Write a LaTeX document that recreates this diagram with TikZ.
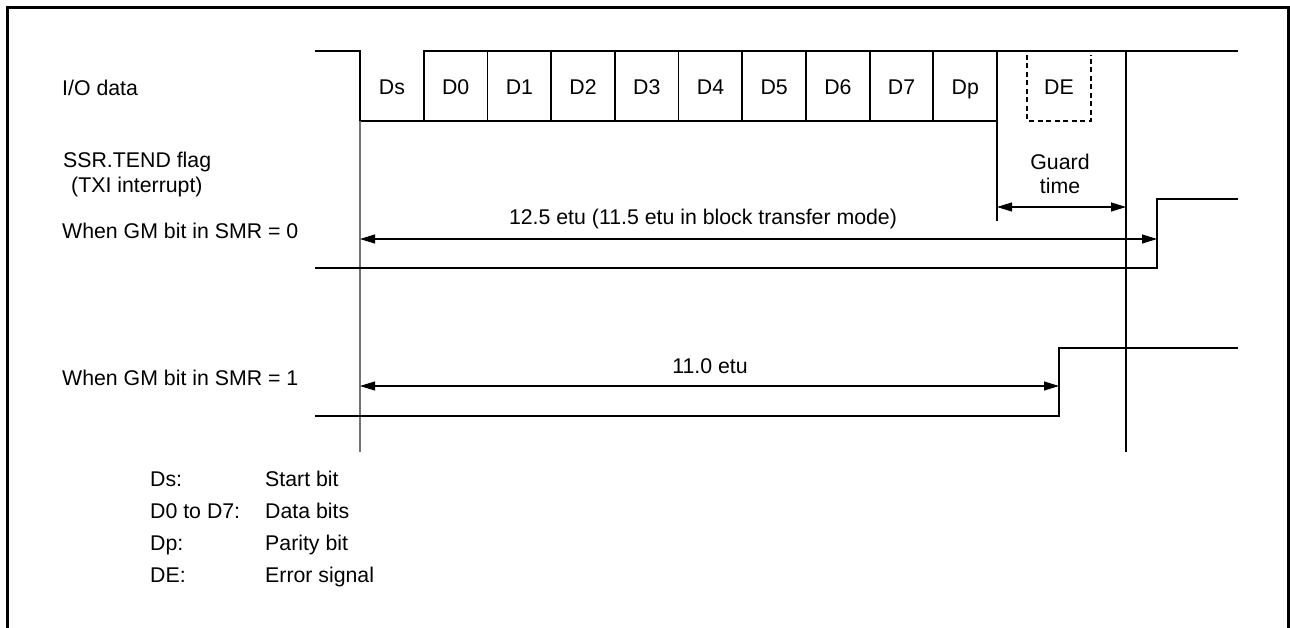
\documentclass[tikz,border=0pt]{standalone}
\usepackage{fontspec}
\setmainfont{Liberation Sans}
\usetikzlibrary{arrows.meta}

\begin{document}
\begin{tikzpicture}[x=1pt,y=-1pt,
  sig/.style={line width=1.8pt},
  guide/.style={line width=1.1pt},
  dim/.style={line width=1.1pt,{Triangle[length=15pt,width=9pt]}-{Triangle[length=15pt,width=9pt]}},
  lbl/.style={inner sep=0pt,font=\fontsize{21.3}{25}\selectfont}]
  \useasboundingbox (0,0) rectangle (1290,628);

  % Frame
  \draw[line width=3pt] (7,640) -- (7,8) -- (1288,8) -- (1288,640);

  % I/O data
  \node[lbl,anchor=base west] (io) at (62,95.5) {I/O data};
  \draw[sig] (315,51) -- (360,51) -- (360,121) -- (997,121) -- (997,51);
  \draw[sig] (424,121) -- (424,51) -- (1238,51);
  \foreach \i in {2,...,9} \draw[sig] ({360+\i*63.7},51) -- ({360+\i*63.7},121);
  \foreach \t [count=\i from 0] in {Ds,D0,D1,D2,D3,D4,D5,D6,D7,Dp}
    \node[lbl,anchor=base] (b\i) at ({392+\i*63.7},95) {\t};
  \draw[sig,dash pattern=on 5pt off 3.5pt] (1027,55) -- (1027,121) -- (1091,121) -- (1091,55);
  \node[lbl,anchor=base] (de) at (1059,95) {DE};

  % Timing marks
  \coordinate (ts) at (360,121);
  \coordinate (te) at (360,452);
  \coordinate (ps) at (997,121);
  \coordinate (pe) at (997,221);
  \coordinate (gs) at (1126,51);
  \coordinate (ge) at (1126,452);
  \draw[guide,black!55,line width=1.6pt] (ts) -- (te);
  \draw[guide] (ps) -- (pe);
  \draw[guide] (gs) -- (ge);

  % Guard time
  \node[lbl,anchor=base] (guard) at (1060,169.5) {Guard};
  \node[lbl,anchor=base] (gtime) at (1060,193.5) {time};
  \draw[dim] (997,207) coordinate (ga) -- (1126,207) coordinate (gb);

  % SSR.TEND flag
  \node[lbl,anchor=base west] (flag) at (63,167.5) {SSR.TEND flag};
  \node[lbl,anchor=base west] (txi) at (71,192.5) {(TXI interrupt)};

  % GM = 0
  \node[lbl,anchor=base west] (gm0) at (62,238.5) {When GM bit in SMR = 0};
  \coordinate (a0) at (360,239);
  \coordinate (b0) at (1157,239);
  \node[lbl,anchor=base] (etu0) at (703,224.5) {12.5 etu (11.5 etu in block transfer mode)};
  \draw[dim] (a0) -- (b0);
  \draw[sig] (315,268) -- (1157,268) -- (1157,199) -- (1238,199);

  % GM = 1
  \node[lbl,anchor=base west] (gm1) at (62,385.5) {When GM bit in SMR = 1};
  \coordinate (a1) at (360,386);
  \coordinate (b1) at (1059,386);
  \node[lbl,anchor=base] (etu1) at (710,373) {11.0 etu};
  \draw[dim] (a1) -- (b1);
  \draw[sig] (315,416) -- (1059,416) -- (1059,348) -- (1238,348);

  % Legend
  \foreach \k/\v [count=\j from 0] in {Ds:/Start bit,D0 to D7:/Data bits,Dp:/Parity bit,DE:/Error signal} {
    \node[lbl,anchor=base west] (k\j) at (150,486.5+\j*32) {\k};
    \node[lbl,anchor=base west] (v\j) at (265,486.5+\j*32) {\v};
  }
\end{tikzpicture}
\end{document}
